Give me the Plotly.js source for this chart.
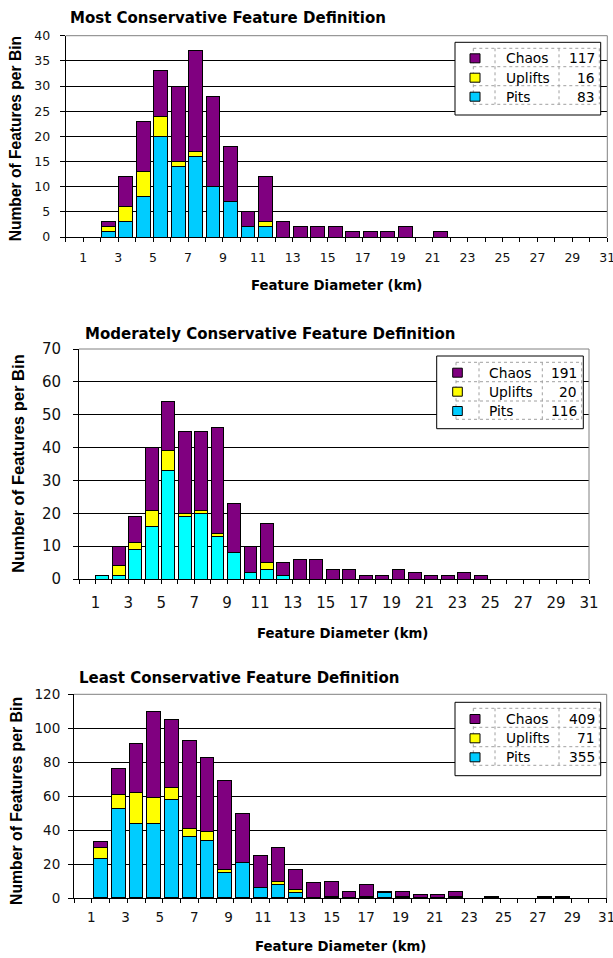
<!DOCTYPE html>
<html><head><meta charset="utf-8">
<script src="https://cdn.plot.ly/plotly-3.0.1.min.js"></script>
<style>html,body{margin:0;padding:0;background:#fff;}#chart{width:613px;height:958px;}</style>
</head><body><div id="chart"></div>
<script>
// ---------- DATA ----------
const bins31 = [0,1,2,3,4,5,6,7,8,9,10,11,12,13,14,15,16,17,18,19,20,21,22,23,24,25,26,27,28,29,30];
const bins30 = [0,1,2,3,4,5,6,7,8,9,10,11,12,13,14,15,16,17,18,19,20,21,22,23,24,25,26,27,28,29];

const seriesNames = ['Chaos','Uplifts','Pits'];

// Most conservative
const pits1  = [0,0,1,3,8,20,14,16,10,7,2,2,0,0,0,0,0,0,0,0,0,0,0,0,0,0,0,0,0,0,0];
const upl1   = [0,0,1,3,5,4,1,1,0,0,0,1,0,0,0,0,0,0,0,0,0,0,0,0,0,0,0,0,0,0,0];
const chaos1 = [0,0,1,6,10,9,15,20,18,11,3,9,3,2,2,2,1,1,1,2,0,1,0,0,0,0,0,0,0,0,0];
const totals1 = ['117','16','83'];

// Moderately conservative
const pits2  = [0,1,1,9,16,33,19,20,13,8,2,3,1,0,0,0,0,0,0,0,0,0,0,0,0,0,0,0,0,0,0];
const upl2   = [0,0,3,2,5,6,1,1,1,0,0,2,0,0,0,0,0,0,0,0,0,0,0,0,0,0,0,0,0,0,0];
const chaos2 = [0,0,6,8,19,15,25,24,32,15,8,12,4,6,6,3,3,1,1,3,2,1,1,2,1,0,0,0,0,0,0];
const totals2 = ['191','20','116'];

// Least conservative
const pits3  = [0,23,53,44,44,58,36,34,15,21,6,8,3,0,1,0,1,3,1,0,0,1,0,0,0,0,0,1,0,0];
const upl3   = [0,7,8,18,15,7,5,5,2,0,0,2,2,0,0,0,0,0,0,0,0,0,0,0,0,0,0,0,0,0];
const chaos3 = [0,3,15,29,51,40,52,44,52,29,19,20,12,9,9,4,7,1,3,2,2,3,0,1,0,0,1,0,0,0];
const totals3 = ['409','71','355'];

const xTickVals31 = [0,1,2,3,4,5,6,7,8,9,10,11,12,13,14,15,16,17,18,19,20,21,22,23,24,25,26,27,28,29,30,31];
const xTickText31 = ['','1','','3','','5','','7','','9','','11','','13','','15','','17','','19','','21','','23','','25','','27','','29','','31'];
const xTickVals30 = [0,1,2,3,4,5,6,7,8,9,10,11,12,13,14,15,16,17,18,19,20,21,22,23,24,25,26,27,28,29,30];
const oddVals = [1,3,5,7,9,11,13,15,17,19,21,23,25,27,29,31];
const oddText = ['1','3','5','7','9','11','13','15','17','19','21','23','25','27','29','31'];

const titles = ['Most Conservative Feature Definition','Moderately Conservative Feature Definition','Least Conservative Feature Definition'];
const xTitle = 'Feature Diameter (km)';
const yTitle = 'Number of Features per Bin';

// ---------- STYLE / GEOMETRY ----------
const W = 613, H = 958;
const px = v => v / W, py = v => 1 - v / H;
const PURPLE = '#800080', YELLOW = '#FFFF00';
const HF = 'DejaVu Sans, sans-serif';
const AF = 'Liberation Sans, Arial, sans-serif';

const panels = [
  {pits:pits1, upl:upl1, chaos:chaos1, bins:bins31, totals:totals1, cyan:'#00CCFF',
   x0:65.7, x1:607.3, y0:35.7, y1:237, ymax:40, dy:5, tickSize:12.5, yStand:7, xStand:5,
   offset:0.04, width:0.79,
   title:{x:68, y:18.3}, xt:{x:336, y:285}, yt:{x:16.3, y:139, size:15.6},
   leg:{box:[455,600.7,42.3,115], cols:[473.3,495,559,599.3], rows:[48.3,66.7,85.7,104.3],
        sq:[470,480], ty:[58.3,77.7,96.7], tx:504.3, vx:596.7}},
  {pits:pits2, upl:upl2, chaos:chaos2, bins:bins31, totals:totals2, cyan:'#00FFFF',
   x0:79, x1:589, y0:349, y1:579, ymax:70, dy:10, tickSize:15, yStand:9, xStand:6,
   offset:0.03, width:0.78,
   title:{x:83.3, y:334}, xt:{x:342.5, y:633.3}, yt:{x:17.7, y:463, size:16.6},
   leg:{box:[436.7,583.3,356,428.7], cols:[456,479,542.3,581.7], rows:[362.3,381.7,401,419.3],
        sq:[452.7,462.3], ty:[372.7,391.7,411], tx:487.3, vx:579.3}},
  {pits:pits3, upl:upl3, chaos:chaos3, bins:bins30, totals:totals3, cyan:'#00CCFF',
   x0:74, x1:606.7, y0:694.3, y1:898, ymax:120, dy:20, tickSize:13.5, yStand:5, xStand:9,
   offset:0.1, width:0.78,
   title:{x:77.3, y:678.3}, xt:{x:340.3, y:946.7}, yt:{x:16, y:801, size:15.8},
   leg:{box:[455,600.7,702.3,775.7], cols:[473.3,495,559,599.3], rows:[708.3,727.3,746.7,765.3],
        sq:[470,480], ty:[719,738.3,757.3], tx:504.3, vx:596.7}}
];

const nz = a => a.map(v => v === 0 ? null : v);
const traces = [], shapes = [], annotations = [];
const layout = {
  width: W, height: H, margin:{l:0,r:0,t:0,b:0},
  paper_bgcolor:'#fff', plot_bgcolor:'#fff', barmode:'stack', showlegend:false,
  font:{family:HF, color:'#000'}
};

panels.forEach((p, i) => {
  const n = i + 1, xs = i === 0 ? '' : String(n);
  const xa = 'x' + (i === 0 ? '' : n), ya = 'y' + (i === 0 ? '' : n);
  const line = {color:'#000', width:1};
  [['Pits', p.pits, p.cyan], ['Uplifts', p.upl, YELLOW], ['Chaos', p.chaos, PURPLE]].forEach(([nm, vals, col]) => {
    traces.push({type:'bar', name:nm, x:p.bins, y:nz(vals), xaxis:xa, yaxis:ya,
      offset:p.offset, width:p.width, marker:{color:col, line:line}, hoverinfo:'x+y+name'});
  });
  const xDom = [px(p.x0), px(p.x1)], yDom = [py(p.y1), py(p.y0)];
  const yax = {domain:yDom, anchor:xa, range:[0,p.ymax], dtick:p.dy, tick0:0, tickmode:'linear',
    showgrid:true, gridcolor:'#000', gridwidth:1, zeroline:false, showline:true, linecolor:'#000', linewidth:1,
    ticks:'outside', ticklen:5, tickcolor:'#000', tickfont:{family:HF, size:p.tickSize, color:'#111'},
    ticklabelstandoff:p.yStand, fixedrange:true};
  let xax;
  if (i < 2) {
    xax = {domain:xDom, anchor:ya, range:[0,31], tickmode:'array', tickvals:xTickVals31, ticktext:xTickText31,
      showgrid:false, zeroline:false, showline:true, linecolor:'#000', linewidth:1,
      ticks:'outside', ticklen:4, tickcolor:'#000', tickfont:{family:HF, size:p.tickSize, color:'#111'},
      ticklabelstandoff:p.xStand, ticklabeloverflow:'allow', fixedrange:true};
  } else {
    xax = {domain:xDom, anchor:ya, range:[0,30], tickmode:'array', tickvals:xTickVals30, showticklabels:false,
      showgrid:false, zeroline:false, showline:true, linecolor:'#000', linewidth:1,
      ticks:'outside', ticklen:4, tickcolor:'#000', fixedrange:true};
    layout.xaxis4 = {overlaying:'x3', anchor:'y3', range:[0,31], tickmode:'array', tickvals:oddVals, ticktext:oddText,
      showgrid:false, zeroline:false, showline:false, ticks:'', side:'bottom',
      tickfont:{family:HF, size:p.tickSize, color:'#111'}, ticklabelstandoff:p.xStand,
      ticklabeloverflow:'allow', fixedrange:true};
    traces.push({type:'scatter', x:[], y:[], xaxis:'x4', yaxis:'y3', showlegend:false, hoverinfo:'skip'});
  }
  layout['xaxis' + xs] = xax;
  layout['yaxis' + xs] = yax;

  // frame (top & right)
  shapes.push({type:'line', xref:'paper', yref:'paper', x0:px(p.x0), x1:px(p.x1), y0:py(p.y0), y1:py(p.y0), line:{color:'#808080', width:1}});
  shapes.push({type:'line', xref:'paper', yref:'paper', x0:px(p.x1), x1:px(p.x1), y0:py(p.y0), y1:py(p.y1), line:{color:'#808080', width:1}});

  // titles
  annotations.push({xref:'paper', yref:'paper', x:px(p.title.x), y:py(p.title.y), xanchor:'left', yanchor:'middle',
    text:titles[i], showarrow:false, font:{family:HF, size:15, color:'#000', weight:'bold'}});
  annotations.push({xref:'paper', yref:'paper', x:px(p.xt.x), y:py(p.xt.y), xanchor:'center', yanchor:'middle',
    text:xTitle, showarrow:false, font:{family:HF, size:13.3, color:'#000', weight:'bold'}});
  annotations.push({xref:'paper', yref:'paper', x:px(p.yt.x), y:py(p.yt.y), xanchor:'center', yanchor:'middle',
    text:yTitle, textangle:-90, showarrow:false, font:{family:AF, size:p.yt.size, color:'#000', weight:'bold'}});

  // legend table
  const L = p.leg;
  shapes.push({type:'rect', xref:'paper', yref:'paper', x0:px(L.box[0]), x1:px(L.box[1]), y0:py(L.box[2]), y1:py(L.box[3]),
    fillcolor:'#fff', line:{color:'#000', width:1}});
  L.cols.forEach(c => shapes.push({type:'line', xref:'paper', yref:'paper', x0:px(c), x1:px(c), y0:py(L.rows[0]), y1:py(L.rows[3]),
    line:{color:'#a0a0a0', width:1, dash:'dot'}}));
  L.rows.forEach(r => shapes.push({type:'line', xref:'paper', yref:'paper', x0:px(L.cols[0]), x1:px(L.cols[3]), y0:py(r), y1:py(r),
    line:{color:'#a0a0a0', width:1, dash:'dot'}}));
  const sqCols = [PURPLE, YELLOW, '#00CCFF'];
  seriesNames.forEach((nm, k) => {
    const cy = L.ty[k];
    shapes.push({type:'rect', xref:'paper', yref:'paper', x0:px(L.sq[0]), x1:px(L.sq[1]), y0:py(cy + 4.5), y1:py(cy - 4.5),
      fillcolor:sqCols[k], line:{color:'#000', width:1}});
    annotations.push({xref:'paper', yref:'paper', x:px(L.tx), y:py(cy), xanchor:'left', yanchor:'middle',
      text:nm, showarrow:false, font:{family:HF, size:13.8, color:'#000'}});
    annotations.push({xref:'paper', yref:'paper', x:px(L.vx), y:py(cy), xanchor:'right', yanchor:'middle',
      text:p.totals[k], showarrow:false, font:{family:HF, size:13.8, color:'#000'}});
  });
});

layout.shapes = shapes;
layout.annotations = annotations;
Plotly.newPlot('chart', traces, layout, {displayModeBar:false, staticPlot:true});
</script>
</body></html>
